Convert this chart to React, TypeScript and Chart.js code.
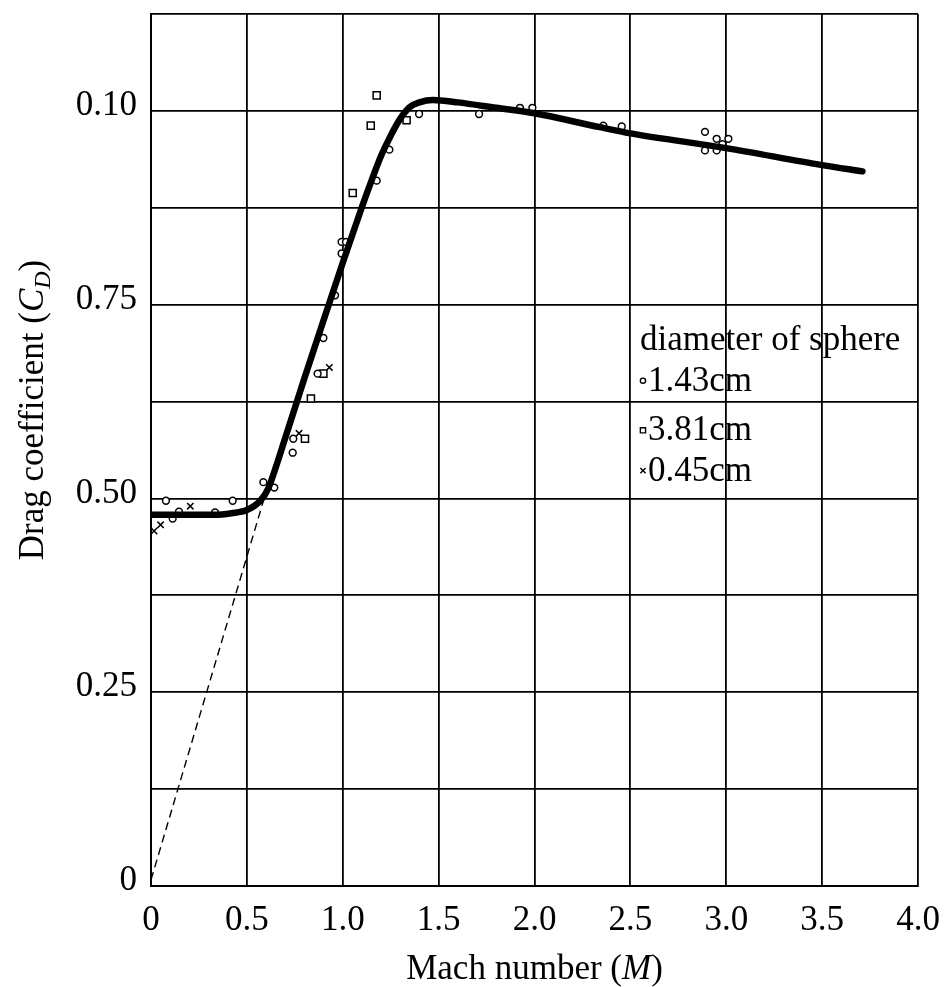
import React, { useEffect, useRef } from 'react';
import { Chart, registerables } from 'chart.js';

Chart.register(...registerables);

// ---- axis ticks ----
const xTickValues = [0, 0.5, 1.0, 1.5, 2.0, 2.5, 3.0, 3.5, 4.0];
const xTickLabels = ['0', '0.5', '1.0', '1.5', '2.0', '2.5', '3.0', '3.5', '4.0'];
const yTickValues = [0, 0.25, 0.5, 0.75, 1.0];
const yTickLabels = ['0', '0.25', '0.50', '0.75', '0.10'];

// ---- faired curve ----
const curveMach = [0, 0.15, 0.33, 0.42, 0.5, 0.57, 0.61, 0.66, 0.7, 0.8, 0.9, 1.0, 1.1, 1.15, 1.2, 1.25, 1.3, 1.35, 1.4, 1.47, 1.6, 1.8, 2.0, 2.34, 2.5, 3.0, 3.5, 3.71];
const curveCd = [0.479, 0.479, 0.479, 0.481, 0.485, 0.497, 0.512, 0.547, 0.578, 0.655, 0.73, 0.804, 0.876, 0.91, 0.942, 0.968, 0.99, 1.005, 1.011, 1.014, 1.011, 1.004, 0.997, 0.979, 0.971, 0.952, 0.930, 0.922];

// ---- dashed extrapolation ----
const dashMach = [0, 0.59];
const dashCd = [0.008, 0.5];

// ---- measurements ----
const circleMach = [0.078, 0.113, 0.146, 0.334, 0.426, 0.586, 0.643, 0.739, 0.742, 0.869, 0.899, 0.96, 0.994, 0.994, 1.017, 1.177, 1.243, 1.398, 1.711, 1.924, 1.989, 2.359, 2.455, 2.889, 2.95, 3.011, 2.98, 2.889, 2.95];
const circleCd = [0.497, 0.474, 0.483, 0.482, 0.497, 0.521, 0.514, 0.559, 0.577, 0.661, 0.707, 0.762, 0.816, 0.831, 0.831, 0.910, 0.950, 0.996, 0.996, 1.004, 1.004, 0.981, 0.980, 0.973, 0.964, 0.964, 0.957, 0.949, 0.949];

const squareMach = [1.177, 1.146, 1.333, 1.052, 0.899, 0.834, 0.803];
const squareCd = [1.020, 0.981, 0.988, 0.894, 0.661, 0.629, 0.577];

const crossMach = [0.016, 0.05, 0.205, 0.772, 0.93];
const crossCd = [0.458, 0.466, 0.490, 0.584, 0.669];

// ---- legend ----
const legendTitle = 'diameter of sphere';
const legendLabels = ['1.43cm', '3.81cm', '0.45cm'];
const legendShapes = ['circle', 'rect', 'cross'];

const FAMILY = '"Liberation Serif", "Times New Roman", serif';

const pts = (xs: number[], ys: number[]) => xs.map((x, i) => ({ x, y: ys[i] }));

type Seg = { t: string; font: string; dy?: number };

function drawSegs(ctx: CanvasRenderingContext2D, segs: Seg[], cx: number, baseline: number) {
  let total = 0;
  const widths = segs.map((s) => {
    ctx.font = s.font;
    const w = ctx.measureText(s.t).width;
    total += w;
    return w;
  });
  let x = cx - total / 2;
  segs.forEach((s, i) => {
    ctx.font = s.font;
    ctx.fillText(s.t, x, baseline + (s.dy || 0));
    x += widths[i];
  });
}

function drawMarker(ctx: CanvasRenderingContext2D, shape: string, x: number, y: number, r: number) {
  ctx.beginPath();
  if (shape === 'circle') {
    ctx.arc(x, y, r, 0, Math.PI * 2);
  } else if (shape === 'rect') {
    ctx.rect(x - r, y - r, 2 * r, 2 * r);
  } else {
    ctx.moveTo(x - r, y - r);
    ctx.lineTo(x + r, y + r);
    ctx.moveTo(x + r, y - r);
    ctx.lineTo(x - r, y + r);
  }
  ctx.stroke();
}

const annotate = {
  id: 'annotate',
  afterDraw(chart: any) {
    const ctx: CanvasRenderingContext2D = chart.ctx;
    const xs = chart.scales.x;
    const ys = chart.scales.y;
    const normal = `35px ${FAMILY}`;
    const italic = `italic 35px ${FAMILY}`;
    const sub = `italic 24px ${FAMILY}`;
    ctx.save();
    ctx.fillStyle = '#000';
    ctx.strokeStyle = '#000';
    ctx.textBaseline = 'alphabetic';
    ctx.textAlign = 'left';

    // x axis title
    drawSegs(ctx, [
      { t: 'Mach number (', font: normal },
      { t: 'M', font: italic },
      { t: ')', font: normal },
    ], (chart.chartArea.left + chart.chartArea.right) / 2, 979);

    // y axis title
    ctx.save();
    ctx.translate(43, 410);
    ctx.rotate(-Math.PI / 2);
    drawSegs(ctx, [
      { t: 'Drag coefficient (', font: normal },
      { t: 'C', font: italic },
      { t: 'D', font: sub, dy: 7 },
      { t: ')', font: normal },
    ], 0, 0);
    ctx.restore();

    // legend
    const lx = xs.getPixelForValue(2.55);
    ctx.font = normal;
    ctx.fillText(legendTitle, lx, ys.getPixelForValue(0.691));
    const baseVals = [0.639, 0.575, 0.523];
    legendLabels.forEach((lab, i) => {
      const by = ys.getPixelForValue(baseVals[i]);
      ctx.lineWidth = 1.4;
      drawMarker(ctx, legendShapes[i], lx + 3, by - 10, 2.6);
      ctx.font = normal;
      ctx.fillText(lab, lx + 8, by);
    });
    ctx.restore();
  },
};

export default function App() {
  const ref = useRef<HTMLCanvasElement>(null);

  useEffect(() => {
    if (!ref.current) return;
    Chart.defaults.font.family = FAMILY;
    const pickLabel = (vals: number[], labs: string[], v: number) => {
      const i = vals.findIndex((t) => Math.abs(t - v) < 1e-6);
      return i >= 0 ? labs[i] : '';
    };
    const chart = new Chart(ref.current, {
      type: 'scatter',
      data: {
        datasets: [
          {
            label: 'curve',
            data: pts(curveMach, curveCd),
            showLine: true,
            borderColor: '#000',
            borderWidth: 6.5,
            pointRadius: 0,
            cubicInterpolationMode: 'monotone',
            borderCapStyle: 'round',
            borderJoinStyle: 'round',
            order: 0,
          } as any,
          {
            label: 'extrapolation',
            data: pts(dashMach, dashCd),
            showLine: true,
            borderColor: '#000',
            borderWidth: 1.4,
            borderDash: [8, 5],
            pointRadius: 0,
            order: 1,
          } as any,
          {
            label: legendLabels[0],
            data: pts(circleMach, circleCd),
            pointStyle: 'circle',
            pointRadius: 3.4,
            pointBorderWidth: 1.5,
            pointBorderColor: '#000',
            pointBackgroundColor: '#fff',
            order: 2,
          } as any,
          {
            label: legendLabels[1],
            data: pts(squareMach, squareCd),
            pointStyle: 'rect',
            pointRadius: 5,
            pointBorderWidth: 1.5,
            pointBorderColor: '#000',
            pointBackgroundColor: '#fff',
            order: 3,
          } as any,
          {
            label: legendLabels[2],
            data: pts(crossMach, crossCd),
            pointStyle: 'crossRot',
            pointRadius: 4.5,
            pointBorderWidth: 1.5,
            pointBorderColor: '#000',
            order: 4,
          } as any,
        ],
      },
      options: {
        animation: false,
        responsive: false,
        devicePixelRatio: 1,
        layout: { padding: { top: 14, right: 30, left: 0, bottom: 0 } },
        plugins: {
          legend: { display: false },
          tooltip: { enabled: false },
        },
        scales: {
          x: {
            type: 'linear',
            min: 0,
            max: 4,
            ticks: {
              stepSize: 0.5,
              autoSkip: false,
              maxRotation: 0,
              padding: 14,
              color: '#000',
              font: { family: FAMILY, size: 35 },
              callback: (v: any) => pickLabel(xTickValues, xTickLabels, Number(v)),
            },
            grid: { color: '#000', lineWidth: 1.8, drawTicks: false },
            border: { color: '#000', width: 2 },
            afterFit: (s: any) => {
              s.height = 101;
              s.paddingLeft = 0;
              s.paddingRight = 0;
            },
          },
          y: {
            type: 'linear',
            min: 0,
            max: 1.125,
            ticks: {
              stepSize: 0.125,
              autoSkip: false,
              padding: 14,
              labelOffset: -5,
              color: '#000',
              font: { family: FAMILY, size: 35 },
              callback: (v: any) => pickLabel(yTickValues, yTickLabels, Number(v)),
            },
            grid: { color: '#000', lineWidth: 1.8, drawTicks: false },
            border: { color: '#000', width: 2 },
            afterFit: (s: any) => {
              s.width = 151;
              s.paddingTop = 0;
              s.paddingBottom = 0;
            },
          },
        },
      } as any,
      plugins: [annotate],
    });
    return () => chart.destroy();
  }, []);

  return (
    <div style={{ position: 'absolute', left: 0, top: 0, width: 948, height: 987, background: '#fff' }}>
      <canvas ref={ref} width={948} height={987} style={{ display: 'block' }} />
    </div>
  );
}
